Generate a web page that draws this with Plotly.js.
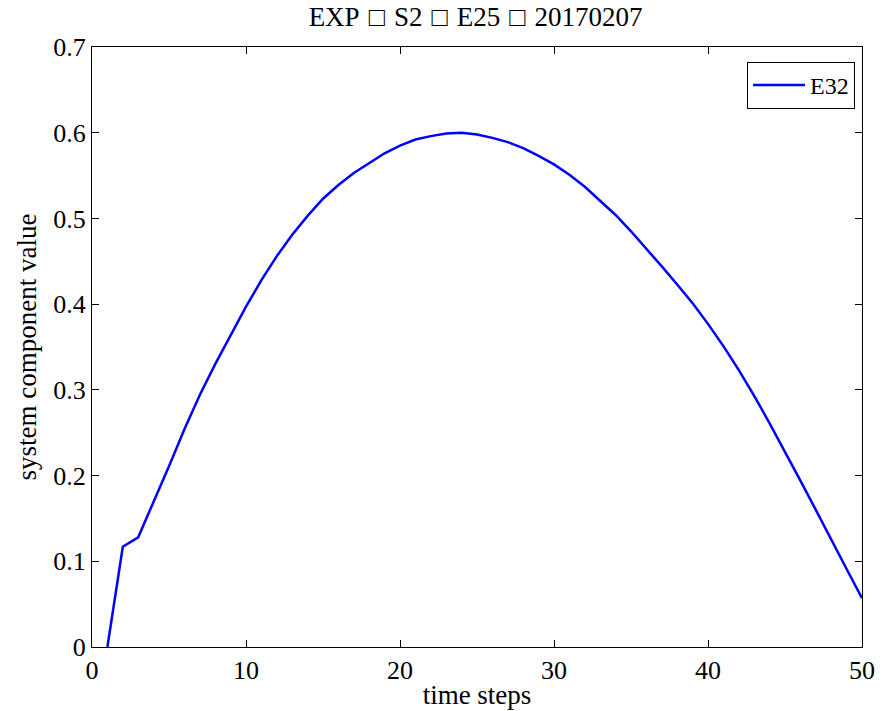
<!DOCTYPE html>
<html>
<head>
<meta charset="utf-8">
<script src="https://cdn.plot.ly/plotly-3.0.1.min.js"></script>
<style>html,body{margin:0;padding:0;background:#fff;}#chart{width:889px;height:711px;}</style>
</head>
<body>
<div id="chart"></div>
<script>
const timeSteps = [1,2,3,4,5,6,7,8,9,10,11,12,13,14,15,16,17,18,19,20,21,22,23,24,25,26,27,28,29,30,31,32,33,34,35,36,37,38,39,40,41,42,43,44,45,46,47,48,49,50];
const e32Values = [0,0.117,0.128,0.169,0.211,0.254,0.294,0.330,0.364,0.397,0.428,0.456,0.481,0.503,0.523,0.539,0.553,0.565,0.576,0.585,0.592,0.596,0.599,0.600,0.598,0.594,0.589,0.582,0.573,0.563,0.551,0.537,0.521,0.504,0.485,0.465,0.444,0.423,0.401,0.377,0.351,0.323,0.293,0.261,0.228,0.194,0.160,0.125,0.091,0.057];
const seriesName = "E32";
const chartTitle = "EXP\u00A0\u200A\u25A1\u200A\u00A0S2\u00A0\u200A\u25A1\u200A\u00A0E25\u00A0\u200A\u25A1\u200A\u00A020170207";
const xTitle = "time steps";
const yTitle = "system component value";
const xTicks = [0,10,20,30,40,50];
const yTicks = [0,0.1,0.2,0.3,0.4,0.5,0.6,0.7];

const font = "'Liberation Serif', 'Times New Roman', serif";
const trace = {x: timeSteps, y: e32Values, type: "scatter", mode: "lines", name: seriesName,
  line: {color: "#0000ff", width: 2.5}};
const axisCommon = {showline: true, linecolor: "#000", linewidth: 1, mirror: "ticks",
  ticks: "inside", ticklen: 7, tickcolor: "#000", showgrid: false, zeroline: false,
  tickfont: {family: font, size: 26, color: "#000"}};
const layout = {
  width: 889, height: 711,
  margin: {l: 92, r: 27, t: 47, b: 64},
  paper_bgcolor: "#fff", plot_bgcolor: "#fff",
  font: {family: font, color: "#000"},
  title: {text: chartTitle, font: {family: font, size: 27, color: "#000"}, x: 0.535, xanchor: "center", y: 0.977, yanchor: "middle"},
  xaxis: Object.assign({}, axisCommon, {range: [0, 50], tickvals: xTicks, ticktext: xTicks.map(String),
    title: {text: xTitle, font: {family: font, size: 27, color: "#000"}, standoff: 0}}),
  yaxis: Object.assign({}, axisCommon, {range: [0, 0.7], tickvals: yTicks, ticktext: yTicks.map(v => v === 0 ? "0" : v.toFixed(1)),
    title: {text: yTitle, font: {family: font, size: 27, color: "#000"}, standoff: 8}}),
  showlegend: true,
  legend: {x: 0.991, y: 0.975, xanchor: "right", yanchor: "top", bordercolor: "#000", borderwidth: 1,
    bgcolor: "#fff", itemwidth: 52, font: {family: font, size: 24, color: "#000"}}
};
Plotly.newPlot("chart", [trace], layout, {displayModeBar: false, staticPlot: true});
</script>
</body>
</html>
